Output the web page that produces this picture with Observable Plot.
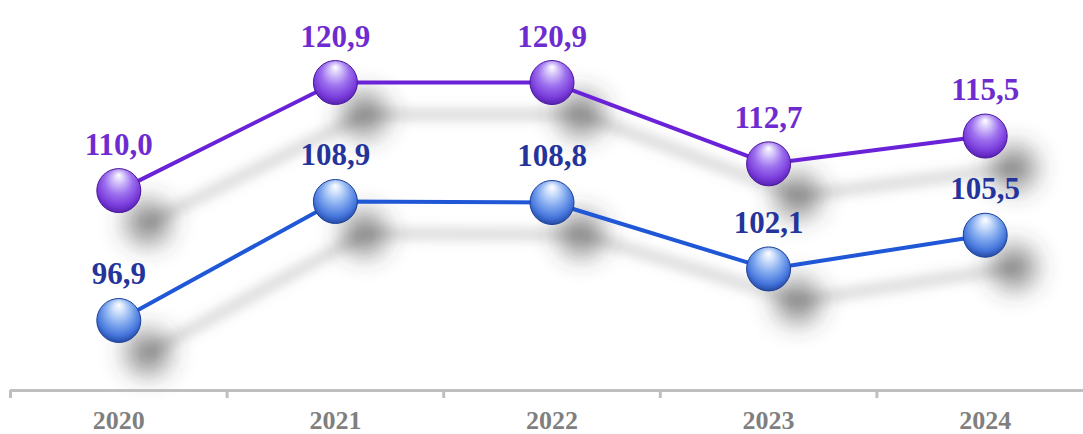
<!DOCTYPE html>
<html>
<head>
<meta charset="utf-8">
<script src="https://cdn.jsdelivr.net/npm/d3@7"></script>
<script src="https://cdn.jsdelivr.net/npm/@observablehq/plot@0.6"></script>
<style>
  html, body { margin: 0; padding: 0; background: #ffffff; }
  #chart svg { display: block; }
</style>
</head>
<body>
<div id="chart"></div>
<script>
const years = [2020, 2021, 2022, 2023, 2024];
const purpleValues = [110.0, 120.9, 120.9, 112.7, 115.5];
const blueValues = [96.9, 108.9, 108.8, 102.1, 105.5];
const boundaries = [2019.5, 2020.5, 2021.5, 2022.5, 2023.5];

const purpleData = years.map((year, i) => ({year, value: purpleValues[i]}));
const blueData = years.map((year, i) => ({year, value: blueValues[i]}));
const fmt = d => d.value.toFixed(1).replace(".", ",");

const yMin = 89.84, yMax = 129.17;

const series = [
  {data: purpleData, line: "#6a22d8", label: "#6e2bd0", grad: "url(#gradPurple)", edge: "#4a169c"},
  {data: blueData, line: "#1f57d6", label: "#24349a", grad: "url(#gradBlue)", edge: "#1a3f96"}
];

const serif = "'Liberation Serif', 'Times New Roman', serif";
const marks = [];
// line shadows
for (const s of series) {
  marks.push(Plot.line(s.data, {x: "year", y: "value", dx: 30, dy: 32, stroke: "#8a8a8a", strokeWidth: 11, strokeOpacity: 0.33, ariaDescription: "shadow-line"}));
}
// dot shadows
for (const s of series) {
  marks.push(Plot.dot(s.data, {x: "year", y: "value", dx: 29, dy: 32, r: 23, fill: "#404040", fillOpacity: 0.55, stroke: "none", ariaDescription: "shadow-dot"}));
}
// axis line and boundary ticks
marks.push(Plot.ruleY([yMin], {stroke: "#bfbfbf", strokeWidth: 3}));
marks.push(Plot.axisX({ticks: boundaries, tickSize: 8, text: null, label: null, stroke: "#bfbfbf", strokeWidth: 3}));
marks.push(Plot.axisX({ticks: years, tickSize: 0, tickPadding: 20, label: null, tickFormat: d => String(d), fill: "#7f7f7f", fontSize: 26, fontWeight: "bold", fontFamily: serif}));
// lines
for (const s of series) {
  marks.push(Plot.line(s.data, {x: "year", y: "value", stroke: s.line, strokeWidth: 4}));
}
// spheres
for (const s of series) {
  marks.push(Plot.dot(s.data, {x: "year", y: "value", r: 22, fill: s.grad, stroke: s.edge, strokeWidth: 1}));
}
// labels
for (const s of series) {
  marks.push(Plot.text(s.data, {x: "year", y: "value", text: fmt, dy: -36, lineAnchor: "bottom", textAnchor: "middle", fill: s.label, fontSize: 31, fontWeight: "bold", fontFamily: serif}));
}

const chart = Plot.plot({
  width: 1083,
  height: 434,
  marginTop: 0,
  marginBottom: 44,
  marginLeft: 10,
  marginRight: 0,
  style: {background: "#ffffff", overflow: "visible"},
  x: {type: "linear", domain: [2019.5, 2024.5], range: [10, 1093], axis: null, label: null},
  y: {domain: [yMin, yMax], axis: null, label: null},
  marks
});

const svgNS = "http://www.w3.org/2000/svg";
const defs = document.createElementNS(svgNS, "defs");
defs.innerHTML = `
  <filter id="blurLine" x="-50%" y="-50%" width="200%" height="200%"><feGaussianBlur stdDeviation="6"/></filter>
  <filter id="blurDot" x="-100%" y="-100%" width="300%" height="300%"><feGaussianBlur stdDeviation="12"/></filter>
  <radialGradient id="gradPurple" cx="50%" cy="42%" r="62%" fx="50%" fy="14%">
    <stop offset="0%" stop-color="#ffffff"/>
    <stop offset="20%" stop-color="#d6c6fa"/>
    <stop offset="50%" stop-color="#9d70ee"/>
    <stop offset="78%" stop-color="#7a3ddc"/>
    <stop offset="100%" stop-color="#4e1aa6"/>
  </radialGradient>
  <radialGradient id="gradBlue" cx="50%" cy="42%" r="62%" fx="50%" fy="14%">
    <stop offset="0%" stop-color="#ffffff"/>
    <stop offset="20%" stop-color="#cfe0fb"/>
    <stop offset="50%" stop-color="#82aaef"/>
    <stop offset="78%" stop-color="#4676dc"/>
    <stop offset="100%" stop-color="#1c3f98"/>
  </radialGradient>`;
chart.insertBefore(defs, chart.firstChild);
chart.querySelectorAll('[aria-description="shadow-line"]').forEach(g => g.setAttribute("filter", "url(#blurLine)"));
chart.querySelectorAll('[aria-description="shadow-dot"]').forEach(g => g.setAttribute("filter", "url(#blurDot)"));

document.getElementById("chart").appendChild(chart);
</script>
</body>
</html>
